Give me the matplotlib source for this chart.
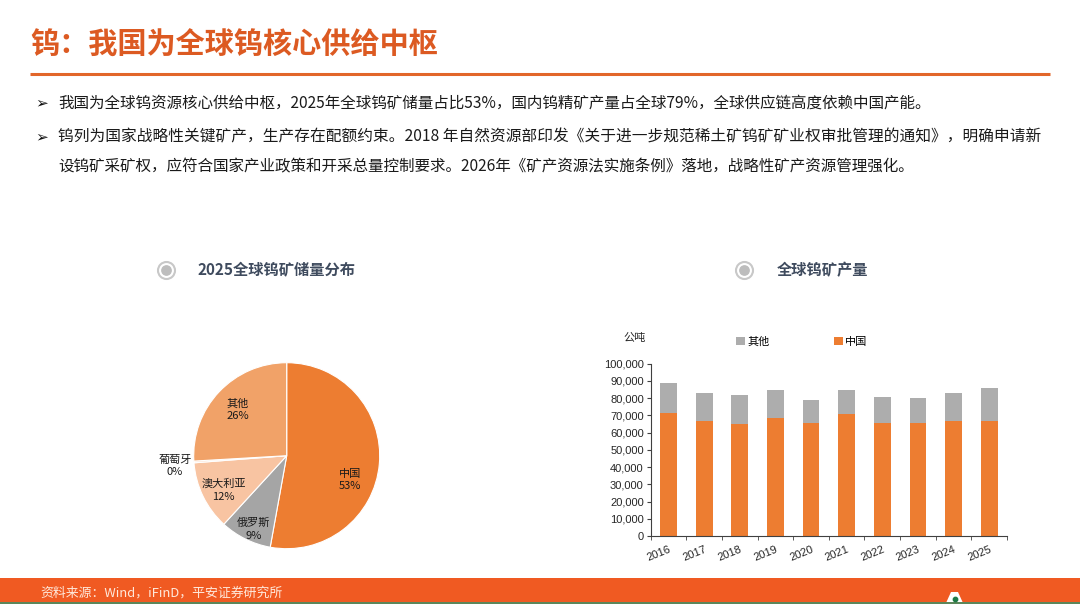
import matplotlib
matplotlib.use("Agg")
import matplotlib.pyplot as plt
import numpy as np
from matplotlib.ticker import FuncFormatter, FixedLocator
from matplotlib.patches import Rectangle, Polygon

plt.rcParams['font.family'] = ['Noto Sans CJK SC', 'DejaVu Sans']

# pie data: 2025 global tungsten reserves share (%)
pie_names = ['中国', '俄罗斯', '澳大利亚', '葡萄牙', '其他']
pie_share = [53, 9, 12, 0.3, 26]
pie_colors = ['#ED7D31', '#A5A5A5', '#F8C4A2', '#FBD9C2', '#F1A268']

# bar data: global tungsten mine output (t)
years = ['2016', '2017', '2018', '2019', '2020', '2021', '2022', '2023', '2024', '2025']
china = [71500, 66500, 64800, 68700, 65800, 70600, 65800, 65800, 66500, 66500]
total = [89000, 83000, 82000, 84500, 79100, 84500, 80700, 80100, 83000, 86100]
other = [t - c for t, c in zip(total, china)]

title = '钨：我国为全球钨核心供给中枢'
bullets = [
    '我国为全球钨资源核心供给中枢，2025年全球钨矿储量占比53%，国内钨精矿产量占全球79%，全球供应链高度依赖中国产能。',
    '钨列为国家战略性关键矿产，生产存在配额约束。2018 年自然资源部印发《关于进一步规范稀土矿钨矿矿业权审批管理的通知》，明确申请新',
    '设钨矿采矿权，应符合国家产业政策和开采总量控制要求。2026年《矿产资源法实施条例》落地，战略性矿产资源管理强化。',
]
source = '资料来源：Wind，iFinD，平安证券研究所'

W, H = 1080, 608
fig = plt.figure(figsize=(W / 100, H / 100), dpi=100)

# page overlay in pixel coordinates
bg = fig.add_axes([0, 0, 1, 1])
bg.set_xlim(0, W)
bg.set_ylim(H, 0)
bg.axis('off')

bg.text(30, 45, title, fontsize=21, fontweight='bold', color='#DC5A22', va='center', ha='left')
bg.plot([30, 1050], [74, 74], color='#E2662A', lw=2.2, solid_capstyle='butt')

bg.text(35, 103, '➢', fontsize=11, fontweight='bold', family=['DejaVu Sans'], va='center', ha='left', color='#111111')
bg.text(58, 103, bullets[0], fontsize=11.2, va='center', ha='left', color='#1a1a1a')
bg.text(35, 137, '➢', fontsize=11, fontweight='bold', family=['DejaVu Sans'], va='center', ha='left', color='#111111')
bg.text(58, 137, bullets[1], fontsize=11.3, va='center', ha='left', color='#1a1a1a')
bg.text(58, 167, bullets[2], fontsize=11.2, va='center', ha='left', color='#1a1a1a')

# section headers with round icons
for cx in [166, 744]:
    bg.scatter([cx], [270], s=150, facecolor='white', edgecolor='#C8C8C8', linewidth=1.5, zorder=3)
    bg.scatter([cx], [270], s=45, color='#BDBDBD', zorder=4)
bg.text(197, 270, '2025全球钨矿储量分布', fontsize=11, fontweight='bold', color='#3F4B5E', va='center')
bg.text(777, 270, '全球钨矿产量', fontsize=11, fontweight='bold', color='#3F4B5E', va='center')

# footer band
bg.add_patch(Rectangle((0, 578), W, 24, color='#F05A22', lw=0))
bg.plot([0, W], [603, 603], color='#3C6E3A', lw=1.2)
bg.add_patch(Polygon([[946, 603], [951, 592], [958, 592], [963, 603]], closed=True, color='white', lw=0))
bg.scatter([954.5], [599], s=10, color='#1F7A45', zorder=5)
bg.text(40, 593, source, fontsize=9.3, color='#FFE9DC', va='center', ha='left')

# pie chart
pcx, pcy, pr = 286.7, 455.7, 93
axp = fig.add_axes([(pcx - pr) / W, (H - pcy - pr) / H, 2 * pr / W, 2 * pr / H])
wedges, _ = axp.pie(pie_share, colors=pie_colors, startangle=90, counterclock=False,
                    wedgeprops=dict(edgecolor='white', linewidth=0.8))
axp.set_xlim(-1, 1)
axp.set_ylim(-1, 1)
axp.set_aspect('equal')
axp.axis('off')
tot = sum(pie_share)
pct = ['%d%%' % round(v / tot * 100) for v in pie_share]
label_pos = [(0.68, -0.26), (-0.36, -0.79), (-0.68, -0.37), (-1.2, -0.11), (-0.53, 0.49)]
for name, p, (lx, ly) in zip(pie_names, pct, label_pos):
    axp.text(lx, ly, name + '\n' + p, fontsize=8, ha='center', va='center',
             color='#1a1a1a', linespacing=1.3, clip_on=False,
             family=['Noto Sans CJK SC', 'Liberation Sans'])

# bar chart
x0, x1, ytop, ybot = 650.7, 1007, 363.7, 536
axb = fig.add_axes([x0 / W, (H - ybot) / H, (x1 - x0) / W, (ybot - ytop) / H])
axb.set_facecolor('none')
xs = np.arange(len(years))
axb.bar(xs, other, bottom=china, width=0.47, color='#ADADAD', label='其他', zorder=2)
axb.bar(xs, china, width=0.47, color='#ED7D31', label='中国', zorder=2)
axb.set_xlim(-0.5, len(years) - 0.5)
axb.set_ylim(0, 100000)
axb.set_yticks(np.arange(0, 100001, 10000))
axb.yaxis.set_major_formatter(FuncFormatter(lambda v, p: '{:,.0f}'.format(v)))
axb.set_xticks(xs)
axb.set_xticklabels(years, rotation=22, ha='right', rotation_mode='anchor')
axb.xaxis.set_minor_locator(FixedLocator(np.arange(-0.5, len(years), 1.0)))
axb.tick_params(axis='x', which='major', length=0, pad=6, labelsize=8)
axb.tick_params(axis='x', which='minor', length=3, direction='out', color='#404040')
axb.tick_params(axis='y', length=3, direction='out', labelsize=8, color='#404040', pad=2)
for lab in axb.get_xticklabels() + axb.get_yticklabels():
    lab.set_family(['Liberation Sans'])
    lab.set_color('#262626')
for s in ['top', 'right']:
    axb.spines[s].set_visible(False)
for s in ['left', 'bottom']:
    axb.spines[s].set_color('#404040')
    axb.spines[s].set_linewidth(0.8)

leg = axb.legend(loc='center', bbox_to_anchor=(802 / W, 1 - 342 / H), bbox_transform=fig.transFigure,
                 ncol=2, frameon=False, fontsize=8, handlelength=0.8, handleheight=0.8,
                 handletextpad=0.2, columnspacing=5.8)
bg.text(623, 338, '公吨', fontsize=8, color='#262626', va='center', ha='left')

fig.savefig('out.png', dpi=100)
